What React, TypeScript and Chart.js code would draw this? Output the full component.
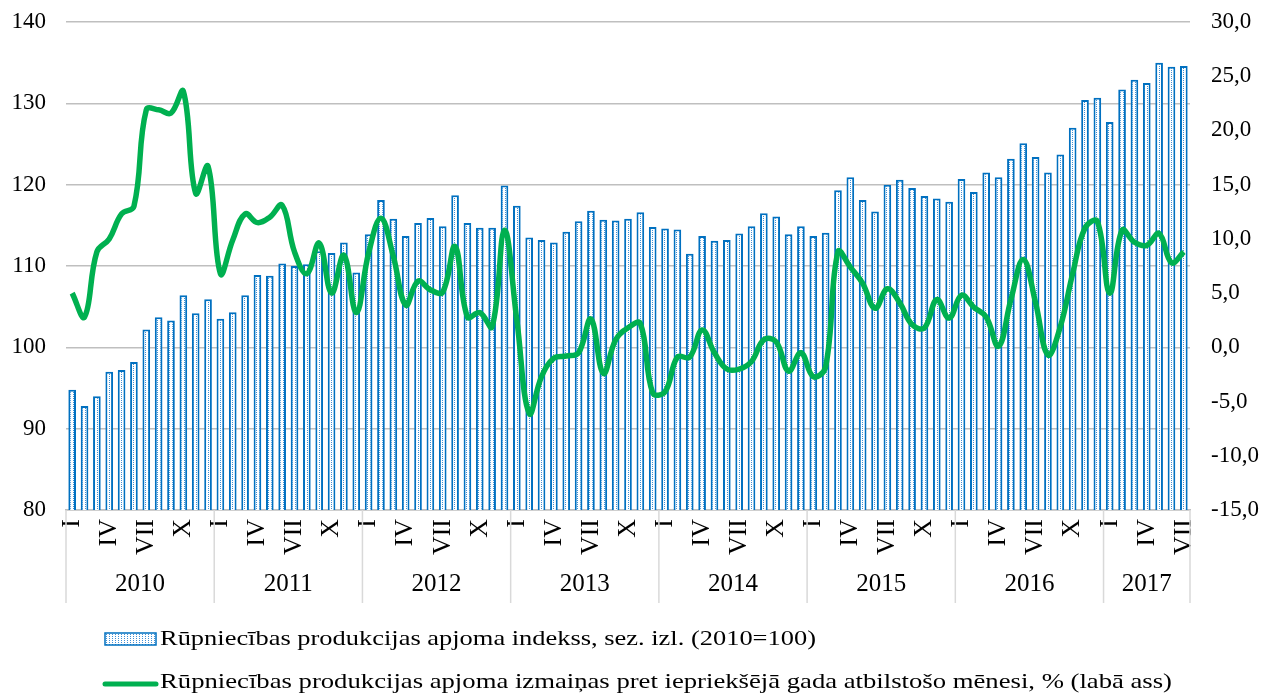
import React, { useEffect, useRef } from "react";
import { Chart, registerables } from "chart.js";

Chart.register(...registerables);

const years = ["2010", "2011", "2012", "2013", "2014", "2015", "2016", "2017"];
const monthLabels = ["I", "", "", "IV", "", "", "VII", "", "", "X", "", ""];

// Industrial production volume index, seasonally adjusted (2010=100), Jan 2010 – Jul 2017
const indexValues = [
  94.8, 92.8, 94.0, 97.0, 97.2, 98.2, 102.2, 103.7, 103.3, 106.4, 104.2, 105.9,
  103.5, 104.3, 106.4, 108.9, 108.8, 110.3, 110.0, 110.2, 111.8, 111.6, 112.9, 109.2,
  113.9, 118.1, 115.8, 113.7, 115.3, 115.9, 114.9, 118.7, 115.3, 114.7, 114.7, 119.9,
  117.4, 113.5, 113.2, 112.9, 114.2, 115.5, 116.8, 115.7, 115.6, 115.8, 116.6, 114.8,
  114.6, 114.5, 111.5, 113.7, 113.1, 113.2, 114.0, 114.9, 116.5, 116.1, 113.9, 114.9,
  113.7, 114.1, 119.3, 120.9, 118.1, 116.7, 120.0, 120.6, 119.6, 118.6, 118.3, 117.9,
  120.7, 119.1, 121.5, 120.9, 123.2, 125.1, 123.4, 121.5, 123.7, 127.0, 130.4, 130.7,
  127.7, 131.7, 132.9, 132.5, 135.0, 134.5, 134.6,
];

// Year-on-year change, % (right axis)
const changeValues = [
  5.0, 2.8, 8.8, 10.0, 12.3, 13.0, 21.9, 21.9, 21.6, 23.6, 14.2, 16.7,
  6.8, 9.9, 12.3, 11.5, 12.0, 13.1, 8.8, 6.8, 9.6, 5.0, 8.5, 3.2,
  8.7, 11.9, 8.4, 3.9, 6.1, 5.3, 5.1, 9.3, 2.8, 3.2, 1.9, 10.8,
  2.5, -6.1, -2.7, -1.0, -0.8, -0.5, 2.6, -2.4, 0.7, 1.8, 2.2, -4.2,
  -4.1, -0.9, -0.9, 1.6, -0.5, -2.0, -2.0, -1.3, 0.7, 0.5, -2.2, -0.5,
  -2.7, -1.8, 8.8, 7.4, 5.9, 3.6, 5.4, 4.1, 2.1, 1.8, 4.4, 2.7,
  4.8, 3.7, 2.8, 0.1, 4.4, 8.1, 4.1, -0.7, 1.9, 6.8, 11.0, 11.6,
  5.0, 10.8, 9.7, 9.4, 10.5, 7.8, 8.8,
];

const legendLabels = [
  "Rūpniecības produkcijas apjoma indekss, sez. izl. (2010=100)",
  "Rūpniecības produkcijas apjoma izmaiņas pret iepriekšējā gada atbilstošo mēnesi, % (labā ass)",
];

const FONT = "'Liberation Serif', 'Times New Roman', serif";
const BLUE = "#0070C0";
const GREEN = "#00B050";

function makePattern(): CanvasPattern | string {
  const c = document.createElement("canvas");
  c.width = 3;
  c.height = 2;
  const g = c.getContext("2d");
  if (!g) return "#ffffff";
  g.fillStyle = "#ffffff";
  g.fillRect(0, 0, 3, 2);
  g.fillStyle = "#3f8fd6";
  g.fillRect(1, 0, 1, 1);
  const p = g.createPattern(c, "repeat");
  return p || "#ffffff";
}

function stretchedText(ctx: CanvasRenderingContext2D, text: string, x: number, y: number, targetWidth: number) {
  const w = ctx.measureText(text).width;
  const sx = w > 0 ? targetWidth / w : 1;
  ctx.save();
  ctx.translate(x, y);
  ctx.scale(sx, 1);
  ctx.fillText(text, 0, 0);
  ctx.restore();
}

export default function App() {
  const ref = useRef<HTMLCanvasElement | null>(null);

  useEffect(() => {
    document.body.style.margin = "0";
    const canvas = ref.current;
    if (!canvas) return;
    const pattern = makePattern();
    const labels = indexValues.map((_, i) => years[Math.floor(i / 12)] + "-" + (i % 12 + 1));

    const decor = {
      id: "decor",
      afterDraw(chart: any) {
        const ctx = chart.ctx;
        const area = chart.chartArea;
        const n = indexValues.length;
        const cw = (area.right - area.left) / n;
        ctx.save();
        // year separators
        ctx.strokeStyle = "#d9d9d9";
        ctx.lineWidth = 1.5;
        const bounds: number[] = [];
        for (let k = 0; k * 12 < n; k++) bounds.push(area.left + k * 12 * cw);
        bounds.push(area.right);
        bounds.forEach((bx) => {
          ctx.beginPath();
          ctx.moveTo(bx, area.bottom);
          ctx.lineTo(bx, area.bottom + 93);
          ctx.stroke();
        });
        // year labels
        ctx.fillStyle = "#000";
        ctx.font = "25px " + FONT;
        ctx.textAlign = "center";
        ctx.textBaseline = "middle";
        years.forEach((y, k) => {
          const a = bounds[k];
          const b = bounds[k + 1];
          ctx.fillText(y, (a + b) / 2, area.bottom + 74);
        });
        // legend
        ctx.fillStyle = pattern as any;
        ctx.fillRect(105, 633, 51, 12);
        ctx.strokeStyle = BLUE;
        ctx.lineWidth = 1.5;
        ctx.strokeRect(105, 633, 51, 12);
        ctx.strokeStyle = GREEN;
        ctx.lineWidth = 5;
        ctx.lineCap = "round";
        ctx.beginPath();
        ctx.moveTo(105, 684);
        ctx.lineTo(156, 684);
        ctx.stroke();
        ctx.fillStyle = "#000";
        ctx.textAlign = "left";
        ctx.font = "22px " + FONT;
        stretchedText(ctx, legendLabels[0], 160, 639, 656);
        stretchedText(ctx, legendLabels[1], 160, 682, 1012);
        ctx.restore();
      },
    };

    const chart = new Chart(canvas, {
      type: "bar",
      data: {
        labels,
        datasets: [
          {
            type: "line",
            label: legendLabels[1],
            data: changeValues,
            yAxisID: "y1",
            borderColor: GREEN,
            backgroundColor: GREEN,
            borderWidth: 5.5,
            pointRadius: 0,
            tension: 0.4,
            order: 0,
          } as any,
          {
            type: "bar",
            label: legendLabels[0],
            data: indexValues,
            yAxisID: "y",
            backgroundColor: pattern as any,
            borderColor: BLUE,
            borderWidth: 2,
            barPercentage: 0.62,
            categoryPercentage: 1,
            order: 1,
          } as any,
        ],
      },
      options: {
        responsive: false,
        animation: false,
        layout: { padding: { top: 22, left: 0, right: 0, bottom: 0 } },
        plugins: { legend: { display: false }, tooltip: { enabled: false } },
        scales: {
          x: {
            offset: true,
            grid: { display: false, drawTicks: false },
            border: { display: true, color: "#bfbfbf", width: 1.5 },
            ticks: {
              autoSkip: false,
              minRotation: 90,
              maxRotation: 90,
              padding: 9,
              color: "#000",
              font: { family: FONT, size: 26 },
              callback: (_v: any, i: number) => monthLabels[i % 12],
            },
            afterFit: (s: any) => {
              s.height = 187;
              s.paddingLeft = 0;
              s.paddingRight = 0;
              s.paddingTop = 0;
              s.paddingBottom = 0;
            },
          },
          y: {
            position: "left",
            min: 80,
            max: 140,
            ticks: {
              stepSize: 10,
              padding: 20,
              color: "#000",
              font: { family: FONT, size: 23 },
            },
            grid: { color: "#bfbfbf", lineWidth: 1.5, drawTicks: false },
            border: { display: false },
            afterFit: (s: any) => {
              s.width = 66;
              s.paddingTop = 0;
              s.paddingBottom = 0;
            },
          },
          y1: {
            position: "right",
            min: -15,
            max: 30,
            ticks: {
              stepSize: 5,
              padding: 21,
              color: "#000",
              font: { family: FONT, size: 23 },
              callback: (v: any) => Number(v).toFixed(1).replace(".", ","),
            },
            grid: { display: false, drawTicks: false },
            border: { display: false },
            afterFit: (s: any) => {
              s.width = 74;
              s.paddingTop = 0;
              s.paddingBottom = 0;
            },
          },
        },
      },
      plugins: [decor],
    });
    return () => chart.destroy();
  }, []);

  return (
    <div style={{ width: 1264, height: 697 }}>
      <canvas ref={ref} width={1264} height={697} style={{ display: "block", width: 1264, height: 697 }} />
    </div>
  );
}
